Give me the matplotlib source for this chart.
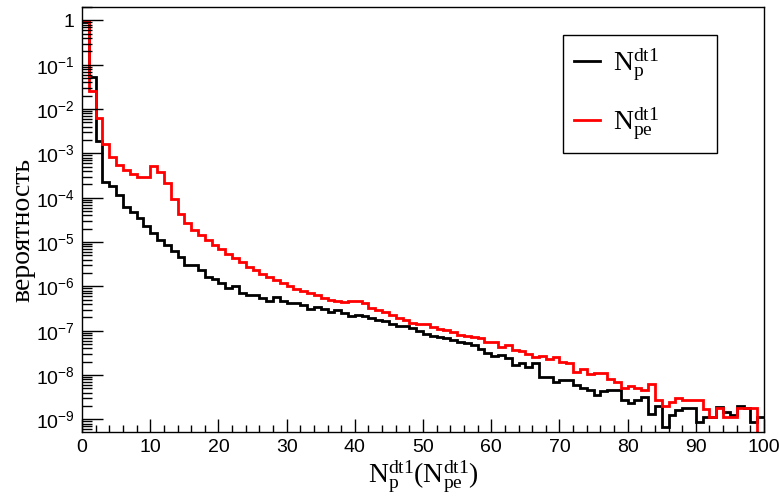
import numpy as np
import matplotlib
matplotlib.use('Agg')
from matplotlib import pyplot as plt
from matplotlib.ticker import LogLocator, FuncFormatter, MultipleLocator, NullFormatter

# =============================================================================================
# Probability distributions of N_p^dt1 (black) and N_pe^dt1 (red), bins of width 1 on [0, 100)
# =============================================================================================

bin_edges = np.arange(0, 101, 1)

prob_np = [
    0.94, 5.16e-2, 1.9e-3, 2.3e-4, 1.86e-4, 1.16e-4, 6.3e-5, 4.7e-5, 3.5e-5, 2.35e-5,
    1.58e-5, 1.12e-5, 8.7e-6, 6.2e-6, 4.7e-6, 3.1e-6, 3.1e-6, 2.35e-6, 1.66e-6, 1.45e-6,
    1.17e-6, 9.1e-7, 1.02e-6, 7.1e-7, 6.5e-7, 6.5e-7, 5.4e-7, 4.6e-7, 5.75e-7, 4.6e-7,
    4.2e-7, 4.2e-7, 3.9e-7, 3.16e-7, 3.4e-7, 3.1e-7, 2.7e-7, 2.95e-7, 2.45e-7, 2.2e-7,
    2.3e-7, 2.1e-7, 1.9e-7, 1.74e-7, 1.7e-7, 1.41e-7, 1.29e-7, 1.29e-7, 1.15e-7, 1.0e-7,
    8.5e-8, 7.6e-8, 7.1e-8, 6.8e-8, 6.2e-8, 5.6e-8, 5.4e-8, 4.8e-8, 3.8e-8, 3.1e-8,
    2.7e-8, 2.8e-8, 2.4e-8, 1.7e-8, 1.86e-8, 1.5e-8, 1.9e-8, 8.9e-9, 9.1e-9, 7.1e-9,
    7.8e-9, 7.8e-9, 6.0e-9, 5.0e-9, 4.6e-9, 3.5e-9, 4.3e-9, 4.5e-9, 4.5e-9, 2.8e-9,
    2.3e-9, 2.8e-9, 3.2e-9, 1.3e-9, 2.0e-9, 6.6e-10, 1.26e-9, 1.6e-9, 1.8e-9, 1.8e-9,
    8.9e-10, 1.12e-9, 1.15e-9, 1.86e-9, 1.5e-9, 1.26e-9, 2.0e-9, 1.8e-9, 8.9e-10, 1.15e-9,
]

prob_npe = [
    0.97, 2.6e-2, 6.3e-3, 1.62e-3, 8.3e-4, 5.5e-4, 4.3e-4, 3.5e-4, 2.9e-4, 2.95e-4,
    5.1e-4, 3.8e-4, 2.15e-4, 9.3e-5, 4.3e-5, 2.75e-5, 1.9e-5, 1.45e-5, 1.12e-5, 8.7e-6,
    6.9e-6, 5.4e-6, 4.4e-6, 3.5e-6, 2.8e-6, 2.35e-6, 1.9e-6, 1.62e-6, 1.41e-6, 1.17e-6,
    1.0e-6, 8.7e-7, 7.9e-7, 7.2e-7, 6.3e-7, 5.6e-7, 5.0e-7, 4.6e-7, 4.4e-7, 4.8e-7,
    4.7e-7, 4.2e-7, 3.2e-7, 2.95e-7, 2.7e-7, 2.3e-7, 1.9e-7, 1.74e-7, 1.48e-7, 1.41e-7,
    1.41e-7, 1.2e-7, 1.1e-7, 1.05e-7, 9.5e-8, 8.1e-8, 7.6e-8, 7.1e-8, 6.8e-8, 5.6e-8,
    5.6e-8, 4.3e-8, 4.8e-8, 3.7e-8, 3.4e-8, 3.0e-8, 2.5e-8, 2.7e-8, 2.3e-8, 2.5e-8,
    2.0e-8, 1.86e-8, 1.2e-8, 1.35e-8, 1.05e-8, 1.1e-8, 1.1e-8, 8.1e-9, 6.8e-9, 5.0e-9,
    5.6e-9, 5.0e-9, 4.6e-9, 6.3e-9, 2.75e-9, 2.0e-9, 2.5e-9, 3.0e-9, 2.75e-9, 2.75e-9,
    2.75e-9, 1.7e-9, 1.15e-9, 1.8e-9, 1.12e-9, 1.12e-9, 1.8e-9, 1.8e-9, 1.8e-9, 0.0,
]

y_decades = np.arange(-9, 1)

label_np = r'$\mathrm{N_{p}^{dt1}}$'
label_npe = r'$\mathrm{N_{pe}^{dt1}}$'
x_title = r'$\mathrm{N_{p}^{dt1}(N_{pe}^{dt1})}$'
y_title = 'вероятность'

plt.rcParams['mathtext.fontset'] = 'custom'
plt.rcParams['mathtext.rm'] = 'Liberation Serif'
plt.rcParams['mathtext.it'] = 'Liberation Serif:italic'
plt.rcParams['mathtext.sf'] = 'Liberation Sans'
plt.rcParams['font.family'] = ['Liberation Sans', 'DejaVu Sans']

fig = plt.figure(figsize=(7.79, 4.97), dpi=100)
ax = fig.add_axes([0.1053, 0.1308, 0.8755, 0.8551])

ax.stairs(prob_np, bin_edges, baseline=None, color='black', linewidth=2.0, label=label_np)
ax.stairs(prob_npe, bin_edges, baseline=None, color='#ff0000', linewidth=2.0, label=label_npe)

ax.set_yscale('log')
ax.set_xlim(0, 100)
ax.set_ylim(5.2e-10, 2.0)

# ROOT-like ticks: inward, only on left and bottom
ax.xaxis.set_major_locator(MultipleLocator(10))
ax.xaxis.set_minor_locator(MultipleLocator(2))
ax.set_yticks(10.0 ** y_decades)
ax.yaxis.set_minor_locator(LogLocator(base=10, subs=np.arange(2, 10), numticks=20))
ax.yaxis.set_minor_formatter(NullFormatter())


def log_label(v, pos):
    e = int(round(np.log10(v)))
    if e == 0:
        return r'$\mathsf{1}$'
    return r'$\mathsf{10^{%d}}$' % e


ax.yaxis.set_major_formatter(FuncFormatter(log_label))
ax.tick_params(axis='both', which='both', direction='in', top=False, right=False,
               width=1, labelsize=14, colors='black')
ax.tick_params(axis='x', which='major', length=9.5, pad=5)
ax.tick_params(axis='x', which='minor', length=4.7)
ax.tick_params(axis='y', which='major', length=15, pad=5)
ax.tick_params(axis='y', which='minor', length=7.5)
for s in ax.spines.values():
    s.set_linewidth(1)

ax.set_xlabel(x_title, fontsize=20)
ax.xaxis.set_label_coords(0.5, -0.062)
ax.set_ylabel(y_title, fontsize=20, family=['Liberation Serif', 'DejaVu Serif'])
ax.yaxis.set_label_coords(-0.069, 0.475)

leg = ax.legend(loc='upper left', bbox_to_anchor=(0.705, 0.934, 0.226, 0.0), mode='expand',
                fontsize=20, frameon=True, fancybox=False, edgecolor='black', framealpha=1,
                borderaxespad=0, handlelength=0.94, handletextpad=0.47,
                labelspacing=0.8, borderpad=0.4)
leg.get_frame().set_linewidth(1)

plt.savefig('out.png', dpi=100)
plt.close()
# eof
